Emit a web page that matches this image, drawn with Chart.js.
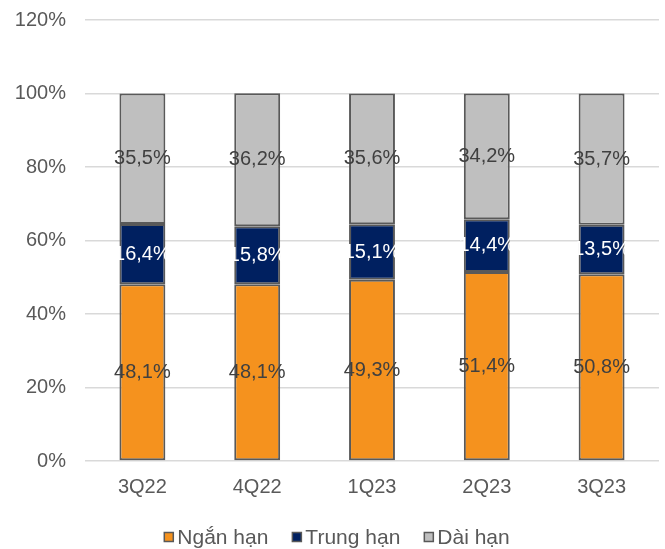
<!DOCTYPE html>
<html>
<head>
<meta charset="utf-8">
<script src="https://cdn.jsdelivr.net/npm/chart.js@4"></script>
<style>
body{margin:0;background:#fff;}
#wrap{width:665px;height:549px;}
</style>
</head>
<body>
<div id="wrap"><canvas id="c" width="665" height="549"></canvas></div>
<script>
const quarters=["3Q22","4Q22","1Q23","2Q23","3Q23"];
const nganHan=[48.1,48.1,49.3,51.4,50.8];
const trungHan=[16.4,15.8,15.1,14.4,13.5];
const daiHan=[35.5,36.2,35.6,34.2,35.7];
const seriesNames=["Ngắn hạn","Trung hạn","Dài hạn"];
const colors=["#F5921E","#002060","#BFBFBF"];
const labelColors=["#404040","#ffffff","#404040"];
const FONT="'Liberation Sans', Arial, sans-serif";

/* labels inside the bars */
const barLabels={
id:"barLabels",
afterDatasetsDraw(chart){
const ctx=chart.ctx;
ctx.save();
ctx.font="20px "+FONT;
ctx.textAlign="center";
ctx.textBaseline="middle";
chart.data.datasets.forEach((ds,i)=>{
chart.getDatasetMeta(i).data.forEach((bar,j)=>{
let y=(bar.y+bar.base)/2;
ctx.fillStyle=labelColors[i];
ctx.fillText(ds.data[j].toFixed(1).replace(".",",")+"%",bar.x,y);
});
});
ctx.restore();
}
};

/* compact legend at the bottom */
const bottomLegend={
id:"bottomLegend",
afterDraw(chart){
const ctx=chart.ctx;
ctx.save();
ctx.font="21px "+FONT;
ctx.textBaseline="middle";
let items=chart.data.datasets.map(ds=>({t:ds.label,c:ds.backgroundColor,w:ctx.measureText(ds.label).width}));
let gapBox=4,gapItem=24,box=9;
let total=items.reduce((s,it)=>s+box+gapBox+it.w,0)+gapItem*(items.length-1);
let x=337-total/2,y=537;
items.forEach(it=>{
ctx.fillStyle=it.c;
ctx.fillRect(x,y-box/2,box,box);
ctx.strokeStyle="#595959";
ctx.lineWidth=1.5;
ctx.strokeRect(x,y-box/2,box,box);
ctx.fillStyle="#595959";
ctx.fillText(it.t,x+box+gapBox,y+1);
x+=box+gapBox+it.w+gapItem;
});
ctx.restore();
}
};

new Chart(document.getElementById("c"),{
type:"bar",
data:{
labels:quarters,
datasets:[nganHan,trungHan,daiHan].map((d,i)=>({
label:seriesNames[i],
data:d,
backgroundColor:colors[i],
borderColor:"#595959",
borderWidth:2,
borderSkipped:false,
barPercentage:0.4,
categoryPercentage:1
}))
},
options:{
responsive:false,
animation:false,
layout:{padding:{left:13,right:6,top:20,bottom:44}},
plugins:{
legend:{display:false},
tooltip:{enabled:false}
},
scales:{
x:{
stacked:true,
grid:{display:false},
border:{display:false},
ticks:{font:{size:20,family:FONT},color:"#595959",padding:6}
},
y:{
stacked:true,
min:0,max:120,
grid:{color:"#D9D9D9",lineWidth:1.5,drawTicks:false},
border:{display:false},
afterFit(scale){scale.width=72;scale.paddingTop=0;scale.paddingBottom=0;},
ticks:{stepSize:20,padding:19,font:{size:20,family:FONT},color:"#595959",
callback:v=>v+"%"}
}
}
},
plugins:[barLabels,bottomLegend]
});
</script>
</body>
</html>
